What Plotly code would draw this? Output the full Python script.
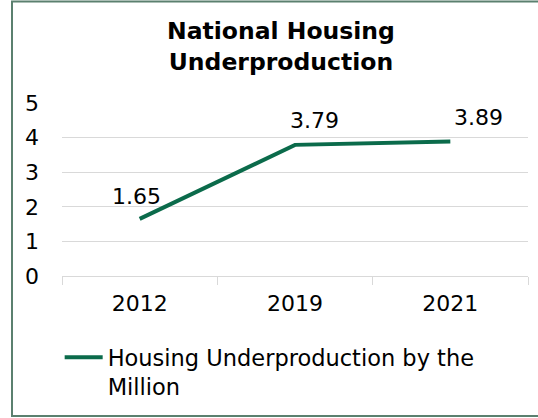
""" National housing underproduction line chart """
import plotly.graph_objects as go

years = ["2012", "2019", "2021"]
underproduction = [1.65, 3.79, 3.89]
series_name = "Housing Underproduction by the<br>Million"
title_text = "<b>National Housing<br>Underproduction</b>"

GREEN = "#0b6b4b"
GRID = "#d9d9d9"
FONT = "DejaVu Sans"

fig = go.Figure()
fig.add_trace(go.Scatter(
    x=years, y=underproduction, mode="lines", name=series_name,
    line=dict(color=GREEN, width=4),
))

# data labels, nudged like the original (category index on the x axis)
label_shifts = [(-3, 22), (19, 24), (28, 24)]
for i, (val, (dx, dy)) in enumerate(zip(underproduction, label_shifts)):
    fig.add_annotation(x=i, y=val, text=f"{val:.2f}", showarrow=False,
                       xshift=dx, yshift=dy,
                       font=dict(family=FONT, size=22, color="#000000"))

fig.add_annotation(x=(281 - 62) / 466, y=(276 - 46) / 173, xref="paper", yref="paper",
                   xanchor="center", yanchor="middle",
                   text=title_text, showarrow=False,
                   font=dict(family=FONT, size=23.5, color="#000000"))

# outer frame (right edge runs off the picture, as in the original)
fig.add_shape(type="rect", xref="paper", yref="paper",
              x0=(12 - 62) / 466, x1=(542 - 62) / 466,
              y0=(276 - 416) / 173, y1=(276 - 1.5) / 173,
              line=dict(color="#5b806f", width=2))

fig.update_layout(
    width=538, height=418,
    margin=dict(l=62, r=10, t=103, b=142),
    paper_bgcolor="white", plot_bgcolor="white",
    font=dict(family=FONT, size=22, color="#000000"),
    showlegend=True,
    legend=dict(x=-0.005, y=(276 - 336) / 173, xanchor="left", yanchor="top",
                valign="top", font=dict(family=FONT, size=22.5),
                itemwidth=38, tracegroupgap=0),
    xaxis=dict(type="category", range=[-0.5, len(years) - 0.5],
               showgrid=False, showline=True, linecolor=GRID, linewidth=1,
               ticks="outside", tickson="boundaries", ticklen=8, tickcolor=GRID,
               ticklabelstandoff=8, zeroline=False),
    yaxis=dict(range=[0, 5], dtick=1, showgrid=True, gridcolor=GRID, gridwidth=1,
               showline=False, zeroline=False, ticklabelstandoff=22),
)

fig.write_html("out.html", config={"displayModeBar": False},
               post_script="document.body.style.margin='0';")
